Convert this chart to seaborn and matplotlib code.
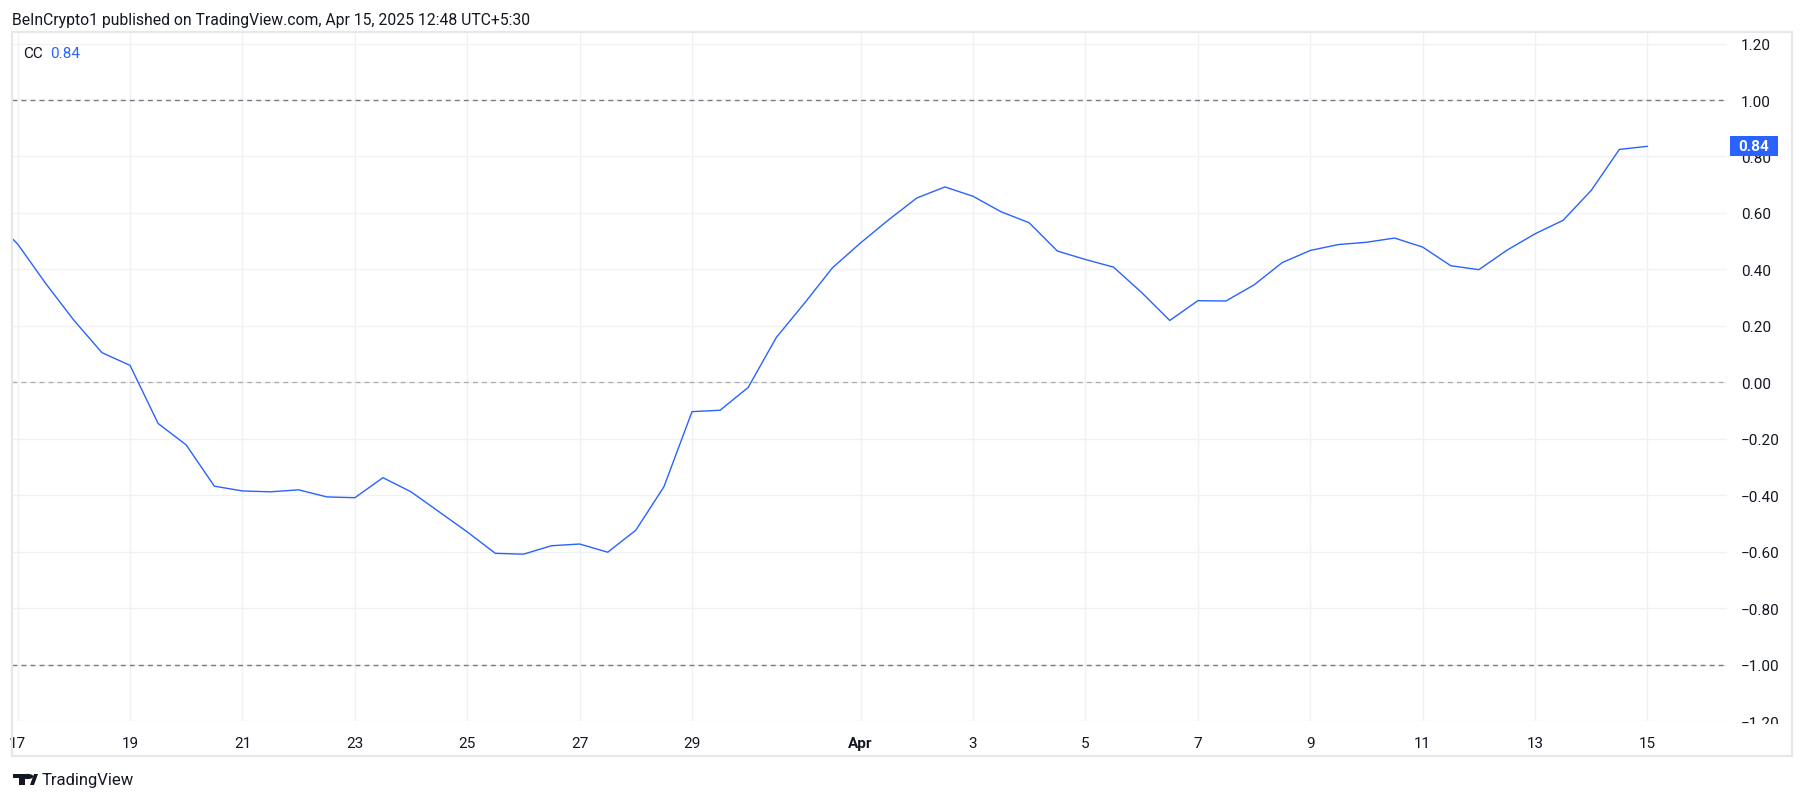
"""Recreate the TradingView correlation coefficient (CC) chart."""

import matplotlib.pyplot as plt
import matplotlib.patches as mpatches
import pandas as pd
import seaborn as sns
from matplotlib.transforms import blended_transform_factory

W, H = 1805, 803

BLUE = "#2962ff"
TEXT = "#131722"
GRID = "#f0f1f3"
LEVEL = "#787b86"
FRAME = "#e6e7ea"

header = "BeInCrypto1 published on TradingView.com, Apr 15, 2025 12:48 UTC+5:30"

# 12h bars, first one just off the left edge
start_time = "2025-03-16 12:00"
cc_values = [
    0.59, 0.49, 0.35, 0.22, 0.105, 0.06, -0.146, -0.222, -0.368, -0.385,
    -0.388, -0.381, -0.406, -0.409, -0.338, -0.388, -0.459, -0.530, -0.606, -0.609,
    -0.579, -0.573, -0.602, -0.524, -0.370, -0.104, -0.099, -0.018, 0.159, 0.28,
    0.406, 0.494, 0.576, 0.653, 0.692, 0.659, 0.604, 0.565, 0.465, 0.435,
    0.408, 0.318, 0.219, 0.289, 0.288, 0.345, 0.424, 0.467, 0.488, 0.496,
    0.511, 0.479, 0.413, 0.399, 0.468, 0.526, 0.574, 0.680, 0.825, 0.836,
]

tick_dates = [
    "2025-03-17", "2025-03-19", "2025-03-21", "2025-03-23", "2025-03-25",
    "2025-03-27", "2025-03-29", "2025-04-01", "2025-04-03", "2025-04-05",
    "2025-04-07", "2025-04-09", "2025-04-11", "2025-04-13", "2025-04-15",
]
tick_labels = ["17", "19", "21", "23", "25", "27", "29", "Apr",
               "3", "5", "7", "9", "11", "13", "15"]

y_ticks = [-1.2, -1.0, -0.8, -0.6, -0.4, -0.2, 0.0, 0.2, 0.4, 0.6, 0.8, 1.0, 1.2]
level_lines = [1.0, 0.0, -1.0]
level_alpha = [1.0, 0.55, 1.0]


def fx(x):
    return x / W


def fy(y):
    return 1 - y / H


def main() -> None:
    sns.set_theme(style="white")
    plt.rcParams["font.family"] = ["Roboto", "DejaVu Sans"]

    df = pd.DataFrame({
        "time": pd.date_range(start_time, periods=len(cc_values), freq="12h"),
        "cc": cc_values,
    })

    fig = plt.figure(figsize=(W / 100, H / 100), dpi=100)
    fig.patch.set_facecolor("white")
    left, right, top, bottom = 12, 1727, 33, 722
    ax = fig.add_axes([fx(left), fy(bottom), fx(right - left), (bottom - top) / H])

    for lvl, a in zip(level_lines, level_alpha):
        ax.axhline(lvl, color=LEVEL, lw=1.0, ls=(0, (3.5, 3)), alpha=a, zorder=2)

    sns.lineplot(data=df, x="time", y="cc", ax=ax, color=BLUE, linewidth=1.0, zorder=3)

    ax.set_xlim(pd.Timestamp("2025-03-16 21:36"), pd.Timestamp("2025-04-16 09:58"))
    ax.set_ylim(-1.2, 1.241)

    ax.set_xticks(pd.to_datetime(tick_dates))
    ax.set_xticklabels(tick_labels)
    for lbl in ax.get_xticklabels():
        if lbl.get_text() == "Apr":
            lbl.set_fontweight("bold")
    ax.set_yticks(y_ticks)
    ax.set_yticklabels([f"{v:.2f}".replace("-", "\u2212") for v in y_ticks])
    ax.yaxis.tick_right()
    ax.tick_params(axis="both", length=0, labelsize=11, colors=TEXT)
    ax.tick_params(axis="x", pad=11)
    ax.tick_params(axis="y", pad=10)
    ax.grid(True, color=GRID, lw=1.0)
    ax.set_xlabel("")
    ax.set_ylabel("")
    for sp in ax.spines.values():
        sp.set_visible(False)

    # last value marker on the price scale
    last = cc_values[-1]
    tr = blended_transform_factory(ax.transAxes, ax.transData)
    ax.add_patch(mpatches.Rectangle((1.002, last - 0.036), 0.0275, 0.072, transform=tr,
                                    facecolor=BLUE, edgecolor="none", clip_on=False, zorder=5))
    ax.text(1.0155, last, f"{last:.2f}", transform=tr, ha="center", va="center",
            color="white", fontsize=11, fontweight="bold", zorder=6, clip_on=False)

    # legend line
    ax.text(fx(23), fy(54), "CC", transform=fig.transFigure, fontsize=11, color=TEXT,
            va="center", ha="left")
    ax.text(fx(50), fy(54), f"{last:.2f}", transform=fig.transFigure, fontsize=11,
            color=BLUE, va="center", ha="left")

    # hide the half of the lowest scale label that falls under the time axis
    fig.patches.append(mpatches.Rectangle((fx(1728), fy(756)), fx(62), (756 - 725) / H,
                                          transform=fig.transFigure, facecolor="white",
                                          edgecolor="none", zorder=3))
    # outer frame
    fig.patches.append(mpatches.Rectangle((fx(12), fy(757)), fx(1792 - 12), (757 - 33) / H,
                                          transform=fig.transFigure, fill=False,
                                          edgecolor=FRAME, lw=1.5, zorder=4))

    fig.text(fx(12), fy(21), header, fontsize=11.3, color=TEXT, va="center", ha="left")

    # TradingView logo
    logo = [
        mpatches.Rectangle((fx(13), fy(779)), fx(12), 4 / H),
        mpatches.Rectangle((fx(19), fy(786)), fx(6), 11 / H),
        mpatches.Circle((fx(27.5), fy(777.5)), 2.6 / H),
        mpatches.Polygon([(fx(30), fy(786)), (fx(34), fy(786)),
                          (fx(38), fy(775)), (fx(34), fy(775))]),
    ]
    for p in logo:
        p.set_transform(fig.transFigure)
        p.set_facecolor(TEXT)
        p.set_edgecolor("none")
        fig.patches.append(p)
    fig.text(fx(42), fy(781), "TradingView", fontsize=12, color=TEXT, va="center", ha="left")

    fig.savefig("out.png", dpi=100)
    plt.close(fig)


if __name__ == "__main__":
    main()
